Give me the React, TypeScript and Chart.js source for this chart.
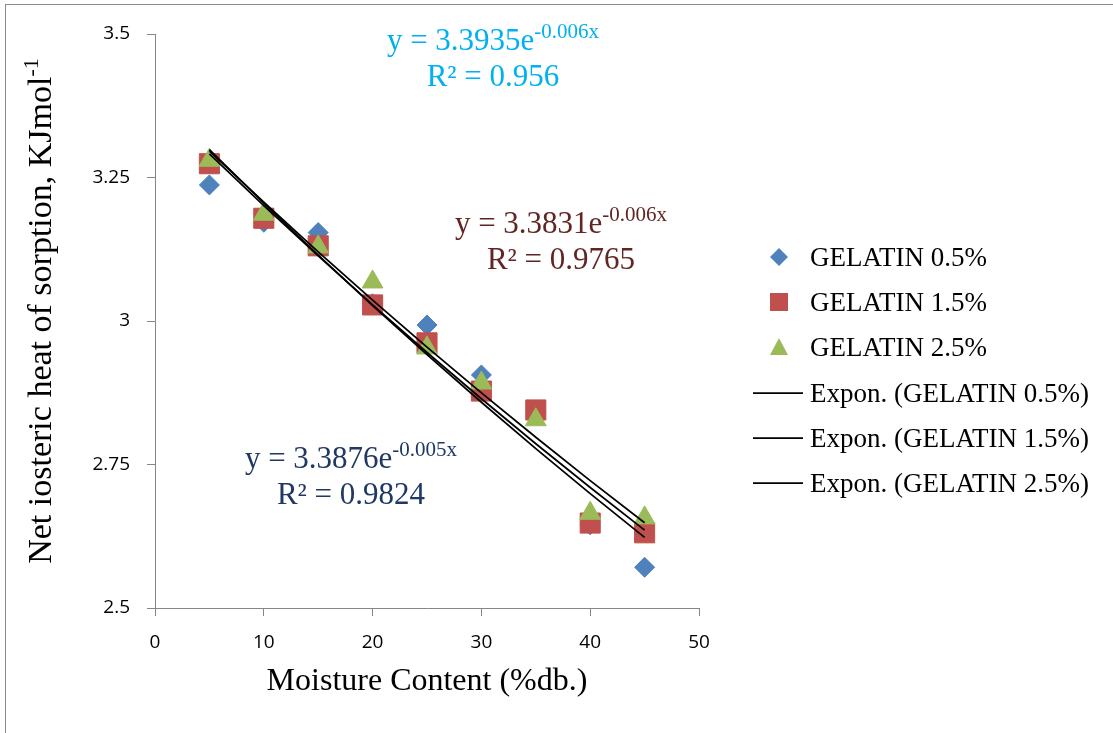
import React, { useEffect, useRef } from "react";
import { Chart, registerables } from "chart.js";

Chart.register(...registerables);

// ---------------- data ----------------
const moisture = [5, 10, 15, 20, 25, 30, 35, 40, 45];
const gelatin05 = [3.237, 3.172, 3.154, 3.03, 2.993, 2.906, 2.84, 2.645, 2.571];
const gelatin15 = [3.274, 3.179, 3.131, 3.028, 2.962, 2.878, 2.845, 2.648, 2.631];
const gelatin25 = [3.28, 3.186, 3.129, 3.068, 2.953, 2.892, 2.828, 2.665, 2.657];

const seriesLabels = ["GELATIN 0.5%", "GELATIN 1.5%", "GELATIN 2.5%"];
const trendLabels = [
  "Expon. (GELATIN 0.5%)",
  "Expon. (GELATIN 1.5%)",
  "Expon. (GELATIN 2.5%)",
];
const seriesColors = ["#4F81BD", "#C0504D", "#9BBB59"];

const xTicks = [0, 10, 20, 30, 40, 50];
const yTicks = [2.5, 2.75, 3, 3.25, 3.5];

const eqCoef = ["3.3935", "3.3831", "3.3876"];
const eqExp = ["-0.006x", "-0.006x", "-0.005x"];
const eqR2 = ["0.956", "0.9765", "0.9824"];
const eqColors = ["#00B0F0", "#632523", "#1F3864"];

const xTitle = "Moisture Content (%db.)";
const yTitleMain = "Net iosteric heat of sorption, KJmol";
const yTitleSup = "-1";

// exponential least-squares fit (log-linear), like Excel's exponential trendline
function expFit(xs: number[], ys: number[]) {
  const n = xs.length;
  const lys = ys.map((v) => Math.log(v));
  const mx = xs.reduce((s, v) => s + v, 0) / n;
  const my = lys.reduce((s, v) => s + v, 0) / n;
  let num = 0;
  let den = 0;
  for (let i = 0; i < n; i++) {
    num += (xs[i] - mx) * (lys[i] - my);
    den += (xs[i] - mx) * (xs[i] - mx);
  }
  const b = num / den;
  const a = Math.exp(my - b * mx);
  return { a, b };
}

const SERIF = "'Liberation Serif', 'Times New Roman', serif";

function drawEq(
  ctx: CanvasRenderingContext2D,
  cx: number,
  baseline: number,
  coef: string,
  exp: string,
  r2: string,
  color: string
) {
  ctx.save();
  ctx.fillStyle = color;
  ctx.textBaseline = "alphabetic";
  ctx.textAlign = "left";
  const main = "y = " + coef + "e";
  ctx.font = `31px ${SERIF}`;
  const wMain = ctx.measureText(main).width;
  ctx.font = `21px ${SERIF}`;
  const wSup = ctx.measureText(exp).width;
  const start = cx - (wMain + wSup) / 2;
  ctx.font = `31px ${SERIF}`;
  ctx.fillText(main, start, baseline);
  ctx.font = `21px ${SERIF}`;
  ctx.fillText(exp, start + wMain, baseline - 12);
  ctx.font = `31px ${SERIF}`;
  const l2 = "R\u00B2 = " + r2;
  const w2 = ctx.measureText(l2).width;
  ctx.fillText(l2, cx - w2 / 2, baseline + 36);
  ctx.restore();
}

const decorPlugin = {
  id: "decor",
  beforeDraw(chart: any) {
    const ctx = chart.ctx as CanvasRenderingContext2D;
    ctx.save();
    ctx.fillStyle = "#ffffff";
    ctx.fillRect(0, 0, chart.width, chart.height);
    ctx.strokeStyle = "#8a8a8a";
    ctx.lineWidth = 1;
    ctx.strokeRect(5.5, 4.5, chart.width + 50, chart.height + 50);
    ctx.restore();
  },
  afterDraw(chart: any) {
    const ctx = chart.ctx as CanvasRenderingContext2D;
    const area = chart.chartArea;

    // equations
    drawEq(ctx, 493, 50, eqCoef[0], eqExp[0], eqR2[0], eqColors[0]);
    drawEq(ctx, 561, 233, eqCoef[1], eqExp[1], eqR2[1], eqColors[1]);
    drawEq(ctx, 351, 468, eqCoef[2], eqExp[2], eqR2[2], eqColors[2]);

    // x title
    ctx.save();
    ctx.fillStyle = "#000";
    ctx.font = `32px ${SERIF}`;
    ctx.textAlign = "center";
    ctx.textBaseline = "alphabetic";
    ctx.fillText(xTitle, (area.left + area.right) / 2, 690);
    ctx.restore();

    // y title (rotated)
    ctx.save();
    ctx.fillStyle = "#000";
    ctx.translate(51, 311);
    ctx.rotate(-Math.PI / 2);
    ctx.textAlign = "left";
    ctx.textBaseline = "alphabetic";
    ctx.font = `34px ${SERIF}`;
    const wm = ctx.measureText(yTitleMain).width;
    ctx.font = `22px ${SERIF}`;
    const ws = ctx.measureText(yTitleSup).width;
    const st = -(wm + ws) / 2;
    ctx.font = `34px ${SERIF}`;
    ctx.fillText(yTitleMain, st, 0);
    ctx.font = `22px ${SERIF}`;
    ctx.fillText(yTitleSup, st + wm, -13);
    ctx.restore();

    // legend
    const rowY = [257, 302, 347, 393, 438, 483];
    const mx = 779;
    ctx.save();
    for (let i = 0; i < 3; i++) {
      const y = rowY[i];
      const ds = chart.data.datasets[i];
      ctx.fillStyle = ds.backgroundColor;
      ctx.beginPath();
      if (i === 0) {
        ctx.moveTo(mx, y - 9);
        ctx.lineTo(mx + 9, y);
        ctx.lineTo(mx, y + 9);
        ctx.lineTo(mx - 9, y);
      } else if (i === 1) {
        ctx.rect(mx - 9, y - 9, 18, 18);
      } else {
        ctx.moveTo(mx, y - 9);
        ctx.lineTo(mx + 9, y + 8);
        ctx.lineTo(mx - 9, y + 8);
      }
      ctx.closePath();
      ctx.fill();
    }
    ctx.strokeStyle = "#000";
    ctx.lineWidth = 1.75;
    for (let i = 0; i < 3; i++) {
      const y = rowY[3 + i];
      ctx.beginPath();
      ctx.moveTo(753, y);
      ctx.lineTo(803, y);
      ctx.stroke();
    }
    ctx.fillStyle = "#000";
    ctx.font = `27px ${SERIF}`;
    ctx.textAlign = "left";
    ctx.textBaseline = "alphabetic";
    const labels = [...seriesLabels, ...trendLabels];
    labels.forEach((t, i) => ctx.fillText(t, 810, rowY[i] + 9));
    ctx.restore();
  },
};

export default function App() {
  const ref = useRef<HTMLCanvasElement | null>(null);

  useEffect(() => {
    if (!ref.current) return;
    const ys = [gelatin05, gelatin15, gelatin25];
    const fits = ys.map((s) => expFit(moisture, s));
    const styles = ["rectRot", "rect", "triangle"];
    const radii = [10, 14.2, 12];
    const orders = [3, 2, 1];

    const pointSets = ys.map((s, i) => ({
      type: "scatter" as const,
      label: seriesLabels[i],
      data: moisture.map((x, j) => ({ x, y: s[j] })),
      backgroundColor: seriesColors[i],
      borderColor: seriesColors[i],
      borderWidth: 1,
      pointStyle: styles[i],
      pointRadius: radii[i],
      showLine: false,
      order: orders[i],
    }));
    const trendSets = fits.map((f, i) => ({
      type: "scatter" as const,
      label: trendLabels[i],
      data: moisture.map((x) => ({ x, y: f.a * Math.exp(f.b * x) })),
      borderColor: "#000000",
      backgroundColor: "#000000",
      borderWidth: 1.75,
      pointRadius: 0,
      showLine: true,
      order: 0,
    }));

    const axisColor = "#868686";
    const chart = new Chart(ref.current, {
      type: "scatter",
      data: { datasets: [...pointSets, ...trendSets] as any },
      plugins: [decorPlugin],
      options: {
        animation: false,
        responsive: false,
        events: [],
        layout: { padding: { top: 34, right: 414, left: 0, bottom: 0 } },
        plugins: { legend: { display: false }, tooltip: { enabled: false } },
        scales: {
          x: {
            type: "linear",
            min: 0,
            max: 50,
            afterBuildTicks: (s: any) => {
              s.ticks = xTicks.map((v) => ({ value: v }));
            },
            afterFit: (s: any) => {
              s.height = 125;
            },
            grid: {
              drawOnChartArea: false,
              drawTicks: true,
              tickLength: 8,
              color: axisColor,
              lineWidth: 1,
            },
            border: { display: true, color: axisColor, width: 1 },
            ticks: {
              font: { family: "'Open Sans', sans-serif", size: 19 },
              color: "#000",
              padding: 15,
              maxRotation: 0,
              callback: (v: any) => String(v),
            },
          },
          y: {
            type: "linear",
            min: 2.5,
            max: 3.5,
            afterBuildTicks: (s: any) => {
              s.ticks = yTicks.map((v) => ({ value: v }));
            },
            afterFit: (s: any) => {
              s.width = 155;
            },
            grid: {
              drawOnChartArea: false,
              drawTicks: true,
              tickLength: 8,
              color: axisColor,
              lineWidth: 1,
            },
            border: { display: true, color: axisColor, width: 1 },
            ticks: {
              font: { family: "'Open Sans', sans-serif", size: 19 },
              color: "#000",
              padding: 17,
              callback: (v: any) => String(v),
            },
          },
        },
      } as any,
    });
    return () => chart.destroy();
  }, []);

  return (
    <div style={{ position: "absolute", left: 0, top: 0, width: 1113, height: 733 }}>
      <canvas ref={ref} width={1113} height={733} style={{ display: "block" }} />
    </div>
  );
}
